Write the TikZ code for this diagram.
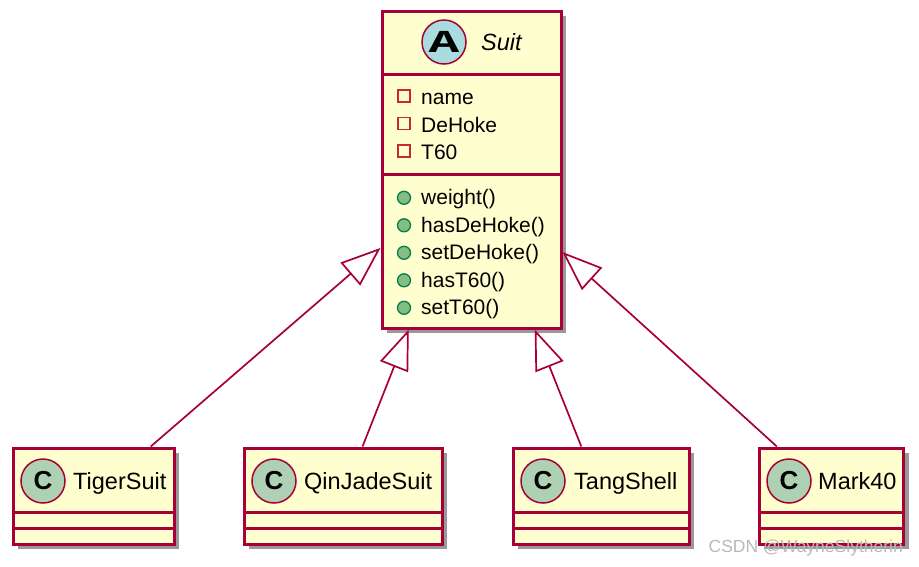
\documentclass[tikz,border=0pt]{standalone}
\usepackage{fontspec}
\setmainfont{Liberation Sans}
\newfontfamily\iconmono{Liberation Mono}
\usepackage{graphicx}
\usetikzlibrary{arrows.meta,shadows}
\definecolor{umlborder}{HTML}{A80036}
\definecolor{umlfill}{HTML}{FEFECE}
\definecolor{abstractbg}{HTML}{A9DCDF}
\definecolor{classbg}{HTML}{ADD1B2}
\definecolor{privred}{HTML}{C82930}
\definecolor{pubfill}{HTML}{84BE84}
\definecolor{publine}{HTML}{038048}
\begin{document}
\begin{tikzpicture}[x=1pt,y=-1pt,
  classbox/.style={draw=umlborder, fill=umlfill, line width=3pt, rectangle, inner sep=0pt,
    drop shadow={shadow xshift=5pt, shadow yshift=-5pt, fill=black, opacity=0.4}},
  sepline/.style={draw=umlborder, line width=3pt},
  member/.style={anchor=base west, inner sep=0pt, font=\fontsize{21}{24}\selectfont},
  classname/.style={anchor=base west, inner sep=0pt, font=\fontsize{23.5}{28}\selectfont},
  privsq/.style={rectangle, draw=privred, line width=1.4pt, minimum size=12pt, inner sep=0pt},
  pubdot/.style={circle, draw=publine, fill=pubfill, line width=1.3pt, minimum size=13pt, inner sep=0pt},
  classicon/.style={circle, draw=umlborder, fill=classbg, line width=1.5pt, minimum size=44pt, inner sep=0pt,
    font=\bfseries\fontsize{26}{26}\selectfont},
  inh/.style={draw=umlborder, line width=1.7pt, -{Triangle[length=40pt, width=30pt, fill=white]}},
]
\useasboundingbox[fill=white] (0,0) rectangle (919,566);

% Abstract class Suit
\node[classbox, minimum width=179pt, minimum height=317pt] (suit) at (471.5,169.5) {};
\draw[sepline] (suit.west |- 0,74) -- (suit.east |- 0,74);
\draw[sepline] (suit.west |- 0,174) -- (suit.east |- 0,174);
\node[circle, draw=umlborder, fill=abstractbg, line width=1.5pt, minimum size=44pt, inner sep=0pt] (suiticon) at (444,42)
  {\iconmono\bfseries\fontsize{32}{32}\selectfont\raisebox{-1pt}{\scalebox{1.6}[1]{A}}};
\node[classname, font=\itshape\fontsize{23.5}{28}\selectfont] (suitname) at (481,50.5) {Suit};

\node[privsq] (pa1) at (404,96) {};
\node[privsq] (pa2) at (404,123.5) {};
\node[privsq] (pa3) at (404,151) {};
\node[member] (a1) at (421,104.5) {name};
\node[member] (a2) at (421,132) {DeHoke};
\node[member] (a3) at (421,159.5) {T60};

\node[pubdot] (pm1) at (404,197.8) {};
\node[pubdot] (pm2) at (404,225.3) {};
\node[pubdot] (pm3) at (404,252.8) {};
\node[pubdot] (pm4) at (404,280.3) {};
\node[pubdot] (pm5) at (404,307.8) {};
\node[member] (m1) at (421,204.5) {weight()};
\node[member] (m2) at (421,232) {hasDeHoke()};
\node[member] (m3) at (421,259.5) {setDeHoke()};
\node[member] (m4) at (421,287) {hasT60()};
\node[member] (m5) at (421,314.5) {setT60()};

% Child classes
\node[classbox, minimum width=161pt, minimum height=96pt] (tiger) at (93.5,496) {};
\node[classbox, minimum width=198pt, minimum height=96pt] (qin) at (343,496) {};
\node[classbox, minimum width=176pt, minimum height=96pt] (tang) at (601,496) {};
\node[classbox, minimum width=144.5pt, minimum height=96pt] (mark) at (831.25,496) {};

\foreach \b in {tiger,qin,tang,mark}{
  \draw[sepline] (\b.west |- 0,512.5) -- (\b.east |- 0,512.5);
  \draw[sepline] (\b.west |- 0,528.5) -- (\b.east |- 0,528.5);
}

\node[classicon] (tigericon) at (43,481) {C};
\node[classname] (tigername) at (73,489.5) {TigerSuit};
\node[classicon] (qinicon) at (274,481) {C};
\node[classname] (qinname) at (304,489.5) {QinJadeSuit};
\node[classicon] (tangicon) at (543,481) {C};
\node[classname] (tangname) at (574,489.5) {TangShell};
\node[classicon] (markicon) at (789,481) {C};
\node[classname] (markname) at (818,489.5) {Mark40};

% Inheritance connectors
\draw[inh] (tiger) -- (suit);
\draw[inh] (qin) -- (suit);
\draw[inh] (tang) -- (suit);
\draw[inh] (mark) -- (suit);

% Watermark
\node[anchor=base east, inner sep=0pt, text=gray!55, font=\fontsize{17.5}{20}\selectfont] (wm) at (903,552) {CSDN @WayneSlytherin};
\end{tikzpicture}
\end{document}
